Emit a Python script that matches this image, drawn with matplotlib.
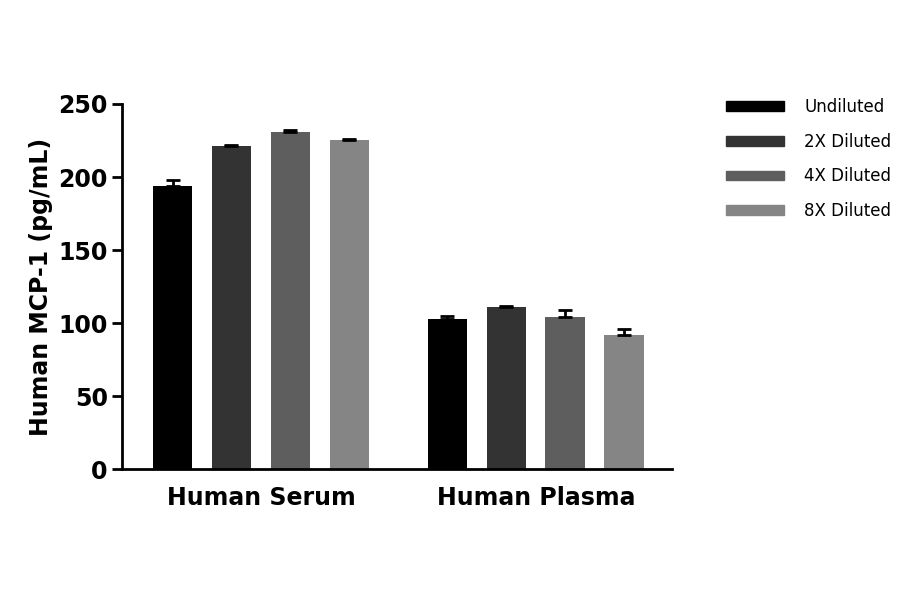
import matplotlib
matplotlib.use("Agg")
import matplotlib.pyplot as plt
import numpy as np
from matplotlib.patches import Patch

groups = ["Human Serum", "Human Plasma"]
series = ["Undiluted", "2X Diluted", "4X Diluted", "8X Diluted"]
values = [[194, 103], [221, 111], [231, 104], [225, 92]]
errors = [[4, 2], [1, 1], [1.5, 5], [1, 4]]
colors = ["#000000", "#333333", "#5e5e5e", "#858585"]

fig = plt.figure(figsize=(9, 5.94), dpi=100)
ax = fig.add_axes([0.136, 0.21, 0.611, 0.615])
x = np.arange(len(groups))
sp = 0.2145
w = 0.145
for i, (s, v, e, c) in enumerate(zip(series, values, errors, colors)):
    pos = x + (i - 1.5) * sp
    ax.bar(pos, v, w, color=c, label=s, zorder=2)
    ax.errorbar(pos, v, yerr=[np.zeros(len(e)), e], fmt="none", ecolor="black",
                elinewidth=2, capsize=5, capthick=2, zorder=3)
ax.set_xlim(-0.504, 1.496)
ax.set_ylim(0, 250)
ax.set_yticks(range(0, 251, 50))
ax.set_xticks(x)
ax.set_xticklabels(groups, fontsize=17, fontweight="bold")
ax.tick_params(axis="y", labelsize=17, width=2, length=7)
for t in ax.get_yticklabels():
    t.set_fontweight("bold")
ax.tick_params(axis="x", length=0, pad=12)
ax.set_ylabel("Human MCP-1 (pg/mL)", fontsize=17, fontweight="bold")
for s in ["top", "right"]:
    ax.spines[s].set_visible(False)
for s in ["left", "bottom"]:
    ax.spines[s].set_linewidth(2)
handles = [Patch(color=c) for c in colors]
fig.legend(handles, series, loc="upper left", bbox_to_anchor=(0.79, 0.86), frameon=False,
           fontsize=12, handlelength=3.5, handleheight=0.5, labelspacing=1.0, handletextpad=1.2)
fig.savefig("out.png", dpi=100)
